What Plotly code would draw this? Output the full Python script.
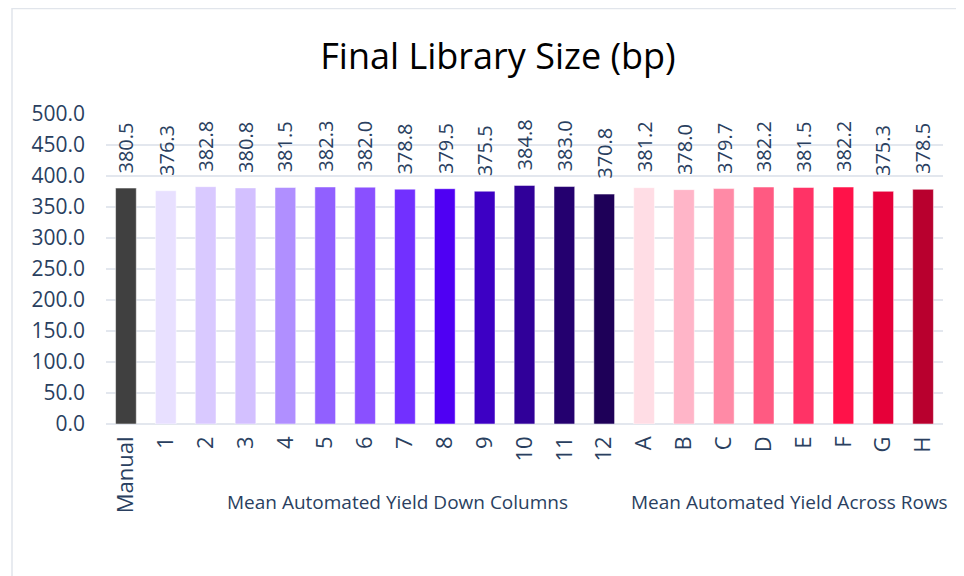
import plotly.graph_objects as go

categories = ["Manual", "1", "2", "3", "4", "5", "6", "7", "8", "9", "10", "11", "12",
              "A", "B", "C", "D", "E", "F", "G", "H"]
values = [380.5, 376.3, 382.8, 380.8, 381.5, 382.3, 382.0, 378.8, 379.5, 375.5, 384.8, 383.0, 370.8,
          381.2, 378.0, 379.7, 382.2, 381.5, 382.2, 375.3, 378.5]
colors = ["#404040", "#e8e0ff", "#d9c9ff", "#d3c0ff", "#b08fff", "#9160ff", "#8a50ff", "#7230ff",
          "#4f00f3", "#3d00c4", "#300099", "#24006f", "#1e0058",
          "#ffdde5", "#ffb5c8", "#ff8aa6", "#ff5a82", "#ff3366", "#ff1249", "#e60039", "#b8002e"]
group_labels = ["Mean Automated Yield Down Columns", "Mean Automated Yield Across Rows"]
y_ticks = [0, 50, 100, 150, 200, 250, 300, 350, 400, 450, 500]

# page has an 8px body margin; figure coordinates = page coordinates - 8
OFF = 8
W, H = 964 - OFF, 576 - OFF
L, T = 106 - OFF, 114 - OFF
pw, ph = 837, 310
R = W - L - pw
B = H - T - ph

def px_x(x):
    return (x - L) / pw

def px_y(y):
    return (T + ph - y) / ph

fig = go.Figure()
fig.add_trace(go.Bar(
    x=categories, y=values,
    marker=dict(color=colors, line=dict(color="white", width=0.5)),
    width=0.52, showlegend=False, hoverinfo="x+y",
))

text_color = "#2a3f5f"
label_font = "Open Sans, Lato, sans-serif"
annotations = []
for c, v in zip(categories, values):
    annotations.append(dict(
        x=c, y=v, xref="x", yref="y", text=f"{v:.1f}", showarrow=False,
        textangle=-90, xanchor="center", yanchor="bottom", yshift=13,
        font=dict(family="Open Sans", size=20, color=text_color),
    ))

group_x = [397 - OFF, 789 - OFF]
for g, gx in zip(group_labels, group_x):
    annotations.append(dict(
        x=px_x(gx), y=px_y(502 - OFF), xref="paper", yref="paper", text=g, showarrow=False,
        xanchor="center", yanchor="middle",
        font=dict(family=label_font, size=19, color=text_color),
    ))

fig.update_layout(
    template="plotly_white",
    width=W, height=H,
    margin=dict(l=L, r=R, t=T, b=B),
    paper_bgcolor="white", plot_bgcolor="white",
    title=dict(text="Final Library Size (bp)", x=(498 - OFF) / W, xref="container", xanchor="center",
               y=1 - (56 - OFF) / H, yref="container", yanchor="middle",
               font=dict(family=label_font, size=36, color="black")),
    annotations=annotations,
    bargap=0.48,
    shapes=[dict(type="rect", xref="paper", yref="paper",
                 x0=px_x(12 - OFF), x1=px_x(990), y0=px_y(600), y1=px_y(8.5 - OFF),
                 line=dict(color="#e1e5eb", width=1.5), fillcolor="rgba(0,0,0,0)", layer="below")],
)
fig.update_xaxes(type="category", categoryorder="array", categoryarray=categories,
                 tickangle=-90, tickfont=dict(family="Open Sans", size=22, color=text_color),
                 showgrid=False, showline=False, ticklabelstandoff=7)
fig.update_yaxes(range=[0, 500], tickvals=y_ticks, tickformat=".1f",
                 tickfont=dict(family="Open Sans", size=21, color=text_color),
                 gridcolor="#e3e7ee", gridwidth=1.5, zeroline=True, zerolinecolor="#e3e7ee",
                 zerolinewidth=2, ticklabelstandoff=20)

fig.write_html("out.html")
